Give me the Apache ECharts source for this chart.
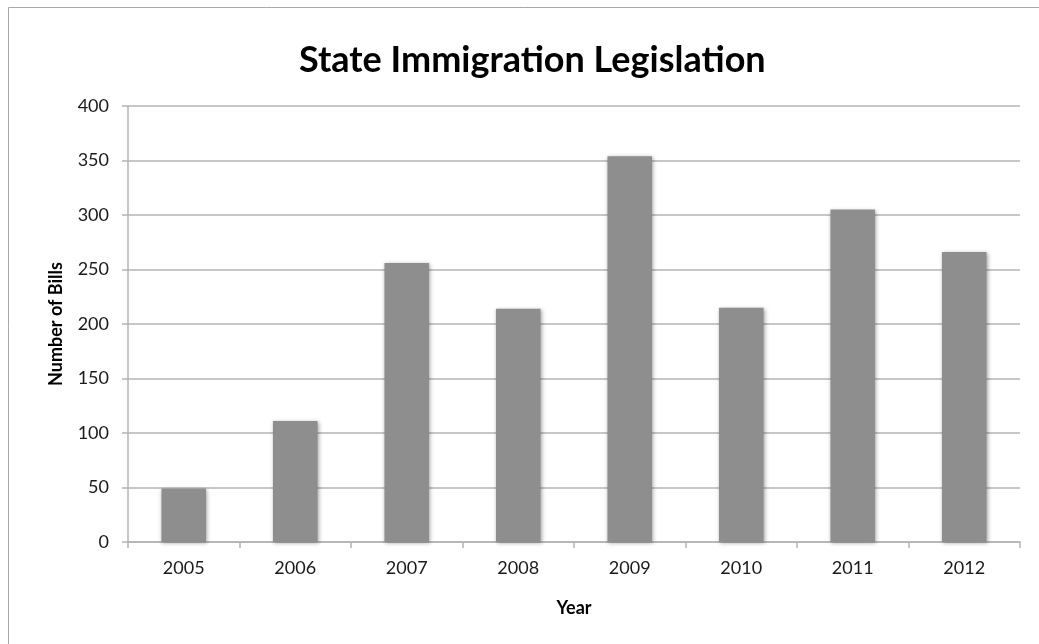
<!DOCTYPE html>
<html>
<head>
<meta charset="utf-8">
<title>State Immigration Legislation</title>
<script src="https://cdn.jsdelivr.net/npm/echarts@6/dist/echarts.min.js"></script>
<style>
  html, body { margin: 0; padding: 0; background: #ffffff; }
  #chart { width: 1039px; height: 644px; }
</style>
</head>
<body>
<div id="chart"></div>
<script>
// Bills on immigration introduced in state legislatures, by year
const years = ['2005', '2006', '2007', '2008', '2009', '2010', '2011', '2012'];
const bills = [49, 111, 256, 214, 354, 215, 305, 266];
const yTicks = { min: 0, max: 400, interval: 50 };

const FONT = 'Lato, "Open Sans", sans-serif';
const AXIS_GRAY = '#b4b4b4';

const chart = echarts.init(document.getElementById('chart'), null, { renderer: 'canvas' });

chart.setOption({
  backgroundColor: '#ffffff',
  animation: false,
  title: {
    text: 'State Immigration Legislation',
    left: 294,
    top: 37,
    textStyle: { fontFamily: FONT, fontWeight: 'bold', fontSize: 36, color: '#000000' }
  },
  graphic: [{
    type: 'rect',
    shape: { x: 8.5, y: 7.5, width: 1200, height: 800 },
    style: { fill: 'none', stroke: '#a8a8a8', lineWidth: 1 },
    silent: true
  }],
  grid: { left: 128, right: 19, top: 106, bottom: 102, containLabel: false },
  xAxis: {
    type: 'category',
    data: years,
    name: 'Year',
    nameLocation: 'middle',
    nameGap: 57,
    nameTextStyle: { fontFamily: FONT, fontWeight: 'bold', fontSize: 18, color: '#000000' },
    axisLine: { show: true, lineStyle: { color: AXIS_GRAY, width: 1.5 } },
    axisTick: { show: true, length: 6, alignWithLabel: false, lineStyle: { color: AXIS_GRAY, width: 1.5 } },
    axisLabel: { fontFamily: FONT, fontSize: 18, color: '#1a1a1a', margin: 17 },
    splitLine: { show: false }
  },
  yAxis: {
    type: 'value',
    min: yTicks.min,
    max: yTicks.max,
    interval: yTicks.interval,
    name: 'Number of Bills',
    nameLocation: 'middle',
    nameGap: 63,
    nameRotate: 90,
    nameTextStyle: { fontFamily: FONT, fontWeight: 'bold', fontSize: 18, color: '#000000' },
    axisLine: { show: true, lineStyle: { color: AXIS_GRAY, width: 1.5 } },
    axisTick: { show: true, length: 6, lineStyle: { color: AXIS_GRAY, width: 1.5 } },
    axisLabel: { fontFamily: FONT, fontSize: 18, color: '#1a1a1a', margin: 19 },
    splitLine: { show: true, lineStyle: { color: AXIS_GRAY, width: 1.5 } }
  },
  series: [{
    type: 'bar',
    data: bills,
    barWidth: '40%',
    itemStyle: {
      color: '#8e8e8e',
      shadowColor: 'rgba(0,0,0,0.35)',
      shadowBlur: 4,
      shadowOffsetX: 1,
      shadowOffsetY: 1
    }
  }]
});
</script>
</body>
</html>
